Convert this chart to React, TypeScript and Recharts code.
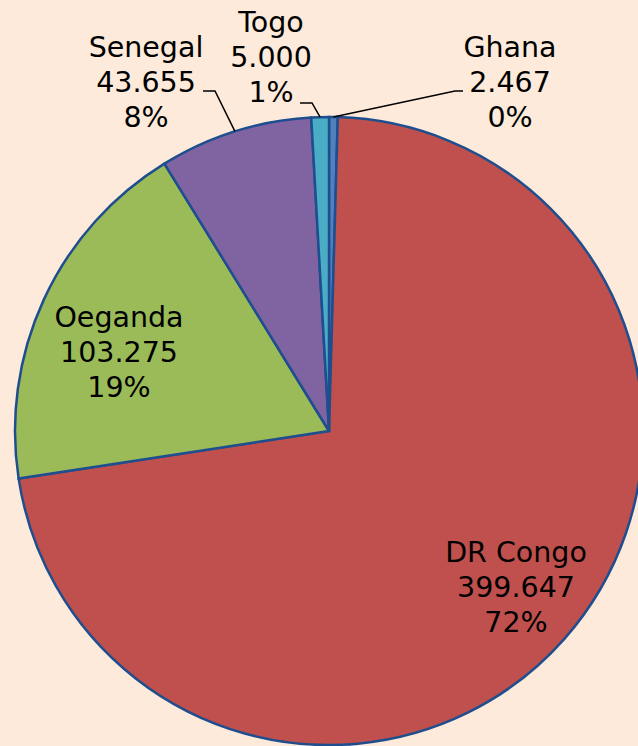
import { Cell, Pie, PieChart } from "recharts";

const countries = ["Ghana", "DR Congo", "Oeganda", "Senegal", "Togo"];
const amounts = [2467, 399647, 103275, 43655, 5000];
const sliceColors = ["#4F81BD", "#C0504D", "#9BBB59", "#8064A2", "#4BACC6"];

// label placement, offsets in px from the pie centre (middle text line)
const labelLayout: Record<string, { dx: number; dy: number; elbow?: [number, number]; tail?: number }> = {
  Ghana: { dx: 181, dy: -349, elbow: [126, -340], tail: 8 },
  "DR Congo": { dx: 187, dy: 156 },
  Oeganda: { dx: -210, dy: -79 },
  Senegal: { dx: -183, dy: -349, elbow: [-114, -340], tail: -12 },
  Togo: { dx: -58, dy: -374, elbow: [-17, -328], tail: -12 },
};

const data = countries.map((name, i) => ({ name, value: amounts[i] }));

const RADIAN = Math.PI / 180;
const fmt = (v: number) => String(v).replace(/\B(?=(\d{3})+(?!\d))/g, ".");

const renderLabel = (props: any) => {
  const { cx, cy, midAngle, outerRadius, name, value, percent } = props;
  const lay = labelLayout[name];
  const x = cx + lay.dx;
  const y = cy + lay.dy + 10;
  let leader = null;
  if (lay.elbow) {
    const ax = cx + outerRadius * Math.cos(-midAngle * RADIAN);
    const ay = cy + outerRadius * Math.sin(-midAngle * RADIAN);
    const ex = cx + lay.elbow[0];
    const ey = cy + lay.elbow[1];
    leader = (
      <polyline
        points={`${ax},${ay} ${ex},${ey} ${ex + (lay.tail || 0)},${ey}`}
        fill="none"
        stroke="#000"
        strokeWidth={1.5}
      />
    );
  }
  return (
    <g>
      {leader}
      <text
        x={x}
        y={y}
        textAnchor="middle"
        fill="#000"
        fontFamily="'DejaVu Sans', Verdana, sans-serif"
        fontSize={28.5}
      >
        <tspan x={x} dy={-35}>{name}</tspan>
        <tspan x={x} dy={35}>{fmt(value)}</tspan>
        <tspan x={x} dy={35}>{`${Math.round(percent * 100)}%`}</tspan>
      </text>
    </g>
  );
};

export default function App() {
  return (
    <div style={{ width: 638, height: 746, background: "#FDEADA", overflow: "hidden" }}>
      <style>{"body{margin:0}"}</style>
      <PieChart width={638} height={746} margin={{ top: 0, right: 0, bottom: 0, left: 0 }}>
        <Pie
          data={data}
          dataKey="value"
          nameKey="name"
          cx={329}
          cy={431}
          outerRadius={314}
          startAngle={90}
          endAngle={-270}
          stroke="#1F4E8F"
          strokeWidth={2.5}
          label={renderLabel}
          labelLine={false}
          isAnimationActive={false}
        >
          {data.map((d, i) => (
            <Cell key={d.name} fill={sliceColors[i]} />
          ))}
        </Pie>
      </PieChart>
    </div>
  );
}
